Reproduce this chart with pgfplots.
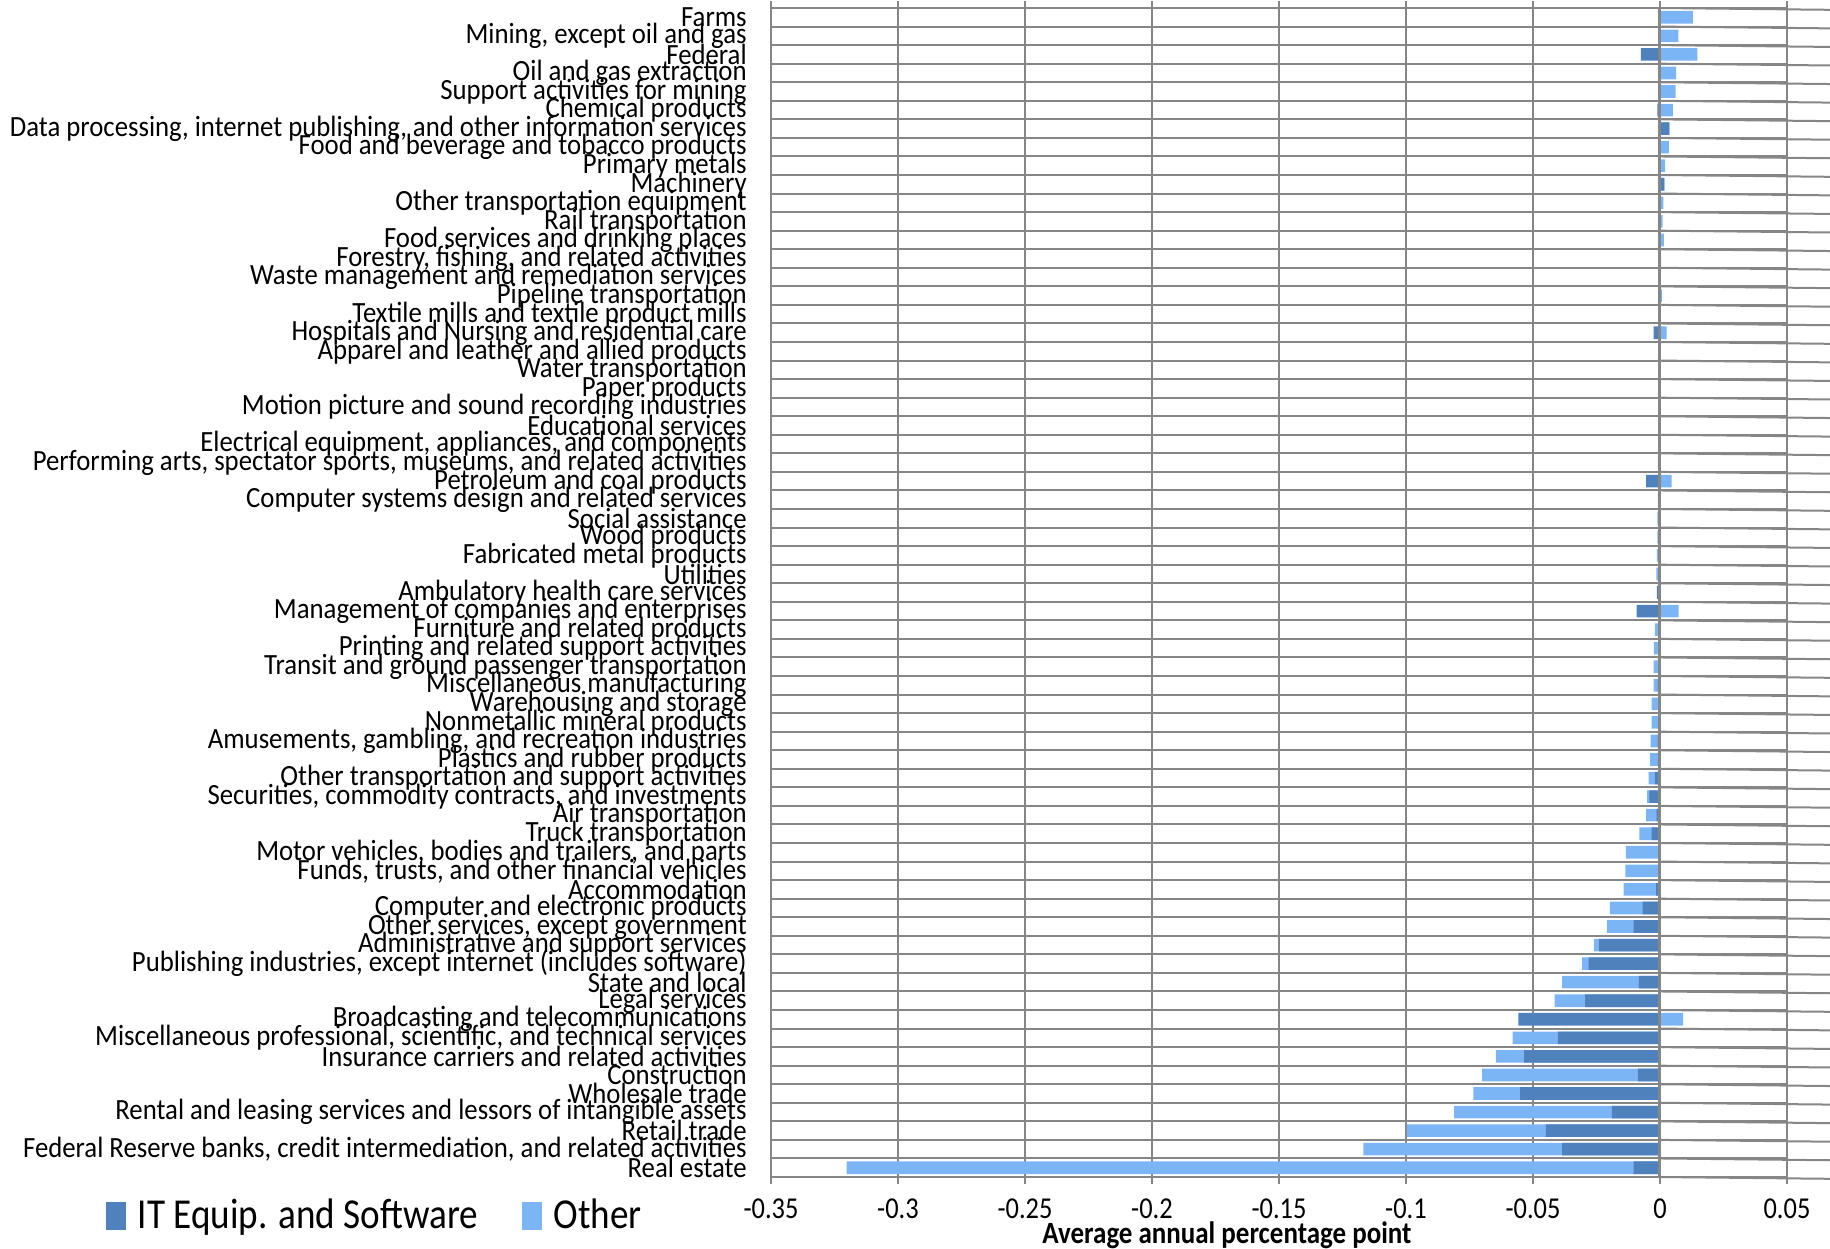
\documentclass[border=0pt]{standalone}
\usepackage{pgfplots}
\usepackage{pgfplotstable}
\pgfplotsset{compat=1.18}
\usepackage{fontspec}
\setmainfont[FakeStretch=0.87]{Carlito}
\newfontfamily\labelfont[FakeStretch=0.912]{Carlito}

\definecolor{itblue}{RGB}{79,129,189}
\definecolor{otherblue}{RGB}{124,181,245}
\definecolor{gridgray}{RGB}{134,134,134}

% contribution by industry: IT equipment and software, and other capital
\pgfplotstableread[col sep=semicolon]{
y;it;other;label
0;0;0.0129;Farms
1;0;0.0072;Mining, except oil and gas
2;-0.0075;0.0147;Federal
3;0;0.0064;Oil and gas extraction
4;0;0.0062;Support activities for mining
5;-0.0010;0.0051;Chemical products
6;0.0037;0;Data processing, internet publishing, and other information services
7;-0.0003;0.0035;Food and beverage and tobacco products
8;0;0.0020;Primary metals
9;0.0017;0;Machinery
10;0;0.0013;Other transportation equipment
11;0;0.0010;Rail transportation
12;-0.0005;0.0015;Food services and drinking places
13;0;0.0004;Forestry, fishing, and related activities
14;0;0.0003;Waste management and remediation services
15;0;0.0008;Pipeline transportation
16;0;0.0002;Textile mills and textile product mills
17;-0.0025;0.0026;Hospitals and Nursing and residential care
18;0;0;Apparel and leather and allied products
19;0;0;Water transportation
20;0;0;Paper products
21;0;-0.0002;Motion picture and sound recording industries
22;0;-0.0002;Educational services
23;0;-0.0004;Electrical equipment, appliances, and components
24;0;-0.0008;Performing arts, spectator sports, museums, and related activities
25;-0.0055;0.0046;Petroleum and coal products
26;0;-0.0008;Computer systems design and related services
27;0;-0.0010;Social assistance
28;0;-0.0010;Wood products
29;-0.0002;-0.0010;Fabricated metal products
30;0;-0.0014;Utilities
31;-0.0012;0;Ambulatory health care services
32;-0.0092;0.0073;Management of companies and enterprises
33;0;-0.0020;Furniture and related products
34;-0.0007;-0.0017;Printing and related support activities
35;-0.0003;-0.0022;Transit and ground passenger transportation
36;-0.0009;-0.0016;Miscellaneous manufacturing
37;0;-0.0033;Warehousing and storage
38;-0.0002;-0.0031;Nonmetallic mineral products
39;-0.0009;-0.0028;Amusements, gambling, and recreation industries
40;-0.0008;-0.0031;Plastics and rubber products
41;-0.0020;-0.0025;Other transportation and support activities
42;-0.0042;-0.0009;Securities, commodity contracts, and investments
43;-0.0013;-0.0042;Air transportation
44;-0.0033;-0.0048;Truck transportation
45;0.0003;-0.0134;Motor vehicles, bodies and trailers, and parts
46;0;-0.0136;Funds, trusts, and other financial vehicles
47;-0.0015;-0.0128;Accommodation
48;-0.0068;-0.0129;Computer and electronic products
49;-0.0104;-0.0105;Other services, except government
50;-0.0240;-0.0019;Administrative and support services
51;-0.0281;-0.0026;Publishing industries, except internet (includes software)
52;-0.0083;-0.0302;State and local
53;-0.0295;-0.0120;Legal services
54;-0.0558;0.0091;Broadcasting and telecommunications
55;-0.0402;-0.0178;Miscellaneous professional, scientific, and technical services
56;-0.0535;-0.0111;Insurance carriers and related activities
57;-0.0087;-0.0613;Construction
58;-0.0551;-0.0184;Wholesale trade
59;-0.0189;-0.0621;Rental and leasing services and lessors of intangible assets
60;-0.0449;-0.0548;Retail trade
61;-0.0385;-0.0783;Federal Reserve banks, credit intermediation, and related activities
62;-0.0104;-0.3098;Real estate
}\industries

\begin{document}
\begin{tikzpicture}
\useasboundingbox (-231.3bp,-21.6bp) rectangle (317.7bp,353.1bp);
\begin{axis}[
  at={(0,0)}, anchor=south west,
  scale only axis,
  width=304.8bp, height=350.7bp,
  xmin=-0.35, xmax=0.05,
  ymin=-0.5, ymax=62.5,
  y dir=reverse,
  xtick={-0.35,-0.3,-0.25,-0.2,-0.15,-0.1,-0.05,0,0.05},
  xticklabels={-0.35,-0.3,-0.25,-0.2,-0.15,-0.1,-0.05,0,0.05},
  ytick={0,...,62},
  yticklabels from table={\industries}{label},
  minor ytick={-0.5,0.5,...,62.5},
  xmajorgrids, yminorgrids,
  grid style={gridgray, line width=0.6bp},
  minor grid style={gridgray, line width=0.6bp},
  axis line style={gridgray, line width=0.6bp},
  tick align=outside,
  major tick length=2.1bp,
  minor tick length=0pt,
  xtick style={gridgray, line width=0.6bp},
  ytick style={draw=none},
  x tick label style={font=\fontsize{9.1bp}{10bp}\selectfont, anchor=center, yshift=-7.5bp},
  y tick label style={font=\labelfont\fontsize{8.8bp}{9bp}\selectfont, anchor=east, inner sep=0pt, xshift=-5bp},
  xlabel={Average annual percentage point},
  xlabel style={font=\fontsize{9.3bp}{10bp}\selectfont\bfseries, at={(axis description cs:0.4488,-0.0496)}, anchor=center, inner sep=0pt},
  legend style={at={(axis description cs:-0.6555,-0.0334)}, anchor=west, draw=none, fill=none, inner sep=0pt,
    font=\fontsize{12.8bp}{14bp}\selectfont, legend columns=2,
    /tikz/every even column/.append style={column sep=9.5bp},
    nodes={inner xsep=3.6bp, inner ysep=0pt}},
  legend cell align=left,
  clip=false,
]
\addlegendimage{area legend, draw=none, fill=itblue, legend image code/.code={\fill[itblue] (0bp,-4.2bp) rectangle (6bp,4.2bp);}}
\addlegendentry{IT Equip. and Software}
\addlegendimage{area legend, draw=none, fill=otherblue, legend image code/.code={\fill[otherblue] (0bp,-4.2bp) rectangle (6bp,4.2bp);}}
\addlegendentry{Other}

% Other capital, stacked beyond the IT part when both have the same sign
\addplot[xbar, bar shift=0pt, bar width=0.68, draw=none, fill=otherblue, forget plot]
  table[y=y, x expr={((\thisrow{it}<0)==(\thisrow{other}<0)) ? \thisrow{it}+\thisrow{other} : \thisrow{other}}] {\industries};
% IT equipment and software, next to the axis
\addplot[xbar, bar shift=0pt, bar width=0.68, draw=none, fill=itblue, forget plot]
  table[y=y, x=it] {\industries};

% vertical axis at zero with its small tick marks
\draw[gridgray, line width=0.9bp] (axis cs:0,-0.5) -- (axis cs:0,62.5);
\pgfplotsinvokeforeach{0,...,63}{
  \draw[gridgray, line width=0.6bp] (axis cs:0,#1-0.5) -- ++(-2.4bp,0);
}
\end{axis}
\end{tikzpicture}
\end{document}
